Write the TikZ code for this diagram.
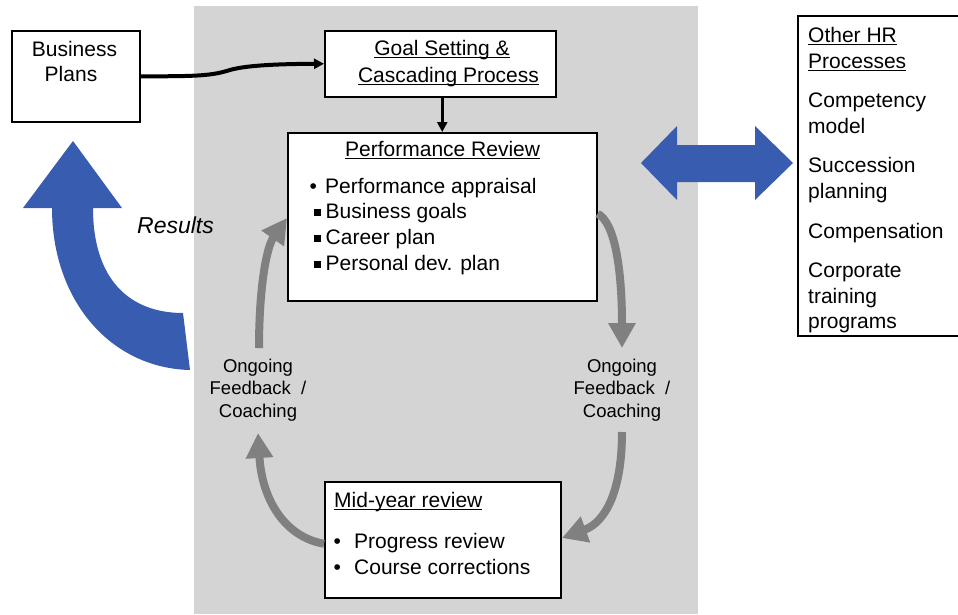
\documentclass[tikz,border=0pt]{standalone}
\usepackage{fontspec}
\setmainfont{Liberation Sans}
\usetikzlibrary{arrows.meta}
\definecolor{bgGray}{HTML}{D4D4D4}
\definecolor{arrGray}{HTML}{808080}
\definecolor{bigBlue}{RGB}{56,92,176}
\newcommand\myul[1]{\setbox0\hbox{#1}\rlap{\rule[-3.4pt]{\wd0}{1.3pt}}\box0}
\newcommand\sqb{\raisebox{2.8pt}{\rule{6.5pt}{6.5pt}}}
\begin{document}
\begin{tikzpicture}[x=1pt,y=-1pt,
  box/.style={draw=black, line width=1.5pt, fill=white, anchor=north west, inner sep=0pt},
  txt/.style={inner sep=0pt, font=\fontsize{21}{26}\selectfont},
  stxt/.style={inner sep=0pt, font=\fontsize{18.5}{22}\selectfont},
  garrow/.style={draw=arrGray, line width=8pt, -{Triangle[length=25pt,width=26pt]}},
  karrow/.style={draw=black, line width=2.6pt, -{Triangle[length=10pt,width=10pt]}}]
\useasboundingbox (0,0) rectangle (958,614);
% grey background panel
\fill[bgGray] (194,6) rectangle (698,614);

% blue curved "Results" arrow
\fill[bigBlue] (73,141) -- (122,208) -- (93,208)
  .. controls (93,280) and (130,313) .. (183,313) -- (190,370)
  .. controls (110,368) and (52,300) .. (52,208) -- (23,208) -- cycle;
% blue double arrow
\fill[bigBlue] (641,163) -- (677,126) -- (677,145) -- (755,145) -- (755,126)
  -- (793,163) -- (755,200) -- (755,182) -- (677,182) -- (677,200) -- cycle;

% boxes
\node[box, minimum width=128pt, minimum height=91pt] (bp) at (11,30) {};
\node[box, minimum width=231pt, minimum height=66pt] (goal) at (324,30) {};
\node[box, minimum width=309pt, minimum height=168pt] (pr) at (287,132) {};
\node[box, minimum width=236pt, minimum height=116pt] (mid) at (324,481) {};
\node[box, minimum width=175pt, minimum height=320pt] (hr) at (797,15) {};

% Business Plans text
\node[txt, anchor=base] (bp1) at (74.5,56.7) {Business};
\node[txt, anchor=base] (bp2) at (71,81.7) {Plans};

% Goal text
\node[txt, anchor=base] (g1) at (442,55) {\myul{Goal Setting \&}};
\node[txt, anchor=base] (g2) at (448.5,82) {\myul{Cascading Process}};

% Performance review text
\node[txt, anchor=base west] (p0) at (345,156) {\myul{Performance Review}};
\node[txt, anchor=base west] (p1) at (309.5,193) {\makebox[15.5pt][l]{•}Performance appraisal};
\node[txt, anchor=base west] (p2) at (314,218.5) {\makebox[11.5pt][l]{\sqb}Business goals};
\node[txt, anchor=base west] (p3) at (314,244.5) {\makebox[11.5pt][l]{\sqb}Career plan};
\node[txt, anchor=base west] (p4) at (314,270.5) {\makebox[11.5pt][l]{\sqb}Personal dev. plan};

% Mid-year text
\node[txt, anchor=base west] (m0) at (334,507) {\myul{Mid-year review}};
\node[txt, anchor=base west] (m1) at (333.5,548) {\makebox[20.5pt][l]{•}Progress review};
\node[txt, anchor=base west] (m2) at (333.5,574) {\makebox[20.5pt][l]{•}Course corrections};

% Other HR text
\node[txt, anchor=base west] (h1) at (808,42) {\myul{Other HR}};
\node[txt, anchor=base west] (h2) at (808,68) {\myul{Processes}};
\node[txt, anchor=base west] (h3) at (808,107) {Competency};
\node[txt, anchor=base west] (h4) at (808,133) {model};
\node[txt, anchor=base west] (h5) at (808,172.5) {Succession};
\node[txt, anchor=base west] (h6) at (808,198) {planning};
\node[txt, anchor=base west] (h7) at (808,238) {Compensation};
\node[txt, anchor=base west] (h8) at (808,277) {Corporate};
\node[txt, anchor=base west] (h9) at (808,303) {training};
\node[txt, anchor=base west] (h10) at (808,328) {programs};

% Ongoing feedback texts
\node[stxt, anchor=base] (ol1) at (258,372) {Ongoing};
\node[stxt, anchor=base] (ol2) at (258,394.5) {Feedback~ /};
\node[stxt, anchor=base] (ol3) at (258,417) {Coaching};
\node[stxt, anchor=base] (or1) at (622,372) {Ongoing};
\node[stxt, anchor=base] (or2) at (622,394.5) {Feedback~ /};
\node[stxt, anchor=base] (or3) at (622,417) {Coaching};

% Results label
\node[inner sep=0pt, anchor=base west, font=\fontsize{23}{27}\selectfont\itshape] (res) at (137,233) {Results};

% black connectors
\draw[karrow, line width=4pt] (bp.east) .. controls (200,76.5) and (212,75.5) .. (230,70)
  .. controls (244,66) and (270,64) .. (goal.west);
\draw[karrow] (goal.south -| pr.north) -- (pr.north);

% grey cycle arrows
\coordinate (tipR) at (622,348);
\coordinate (tailR) at (622,432);
\coordinate (tipMid) at (562,538);
\coordinate (tipL) at (258,433);
\coordinate (tailL) at (259,348);
\coordinate (tipPR) at (287,218);
\draw[garrow] ([yshift=3pt]pr.east) .. controls (615,222) and (622,270) .. (tipR);
\draw[garrow] (tailR) .. controls (622,490) and (606,522) .. (tipMid);
\draw[garrow] ([yshift=-4pt]mid.west) .. controls (285,537) and (262,500) .. (tipL);
\draw[garrow] (tailL) .. controls (259,290) and (266,248) .. (tipPR);
\end{tikzpicture}
\end{document}
